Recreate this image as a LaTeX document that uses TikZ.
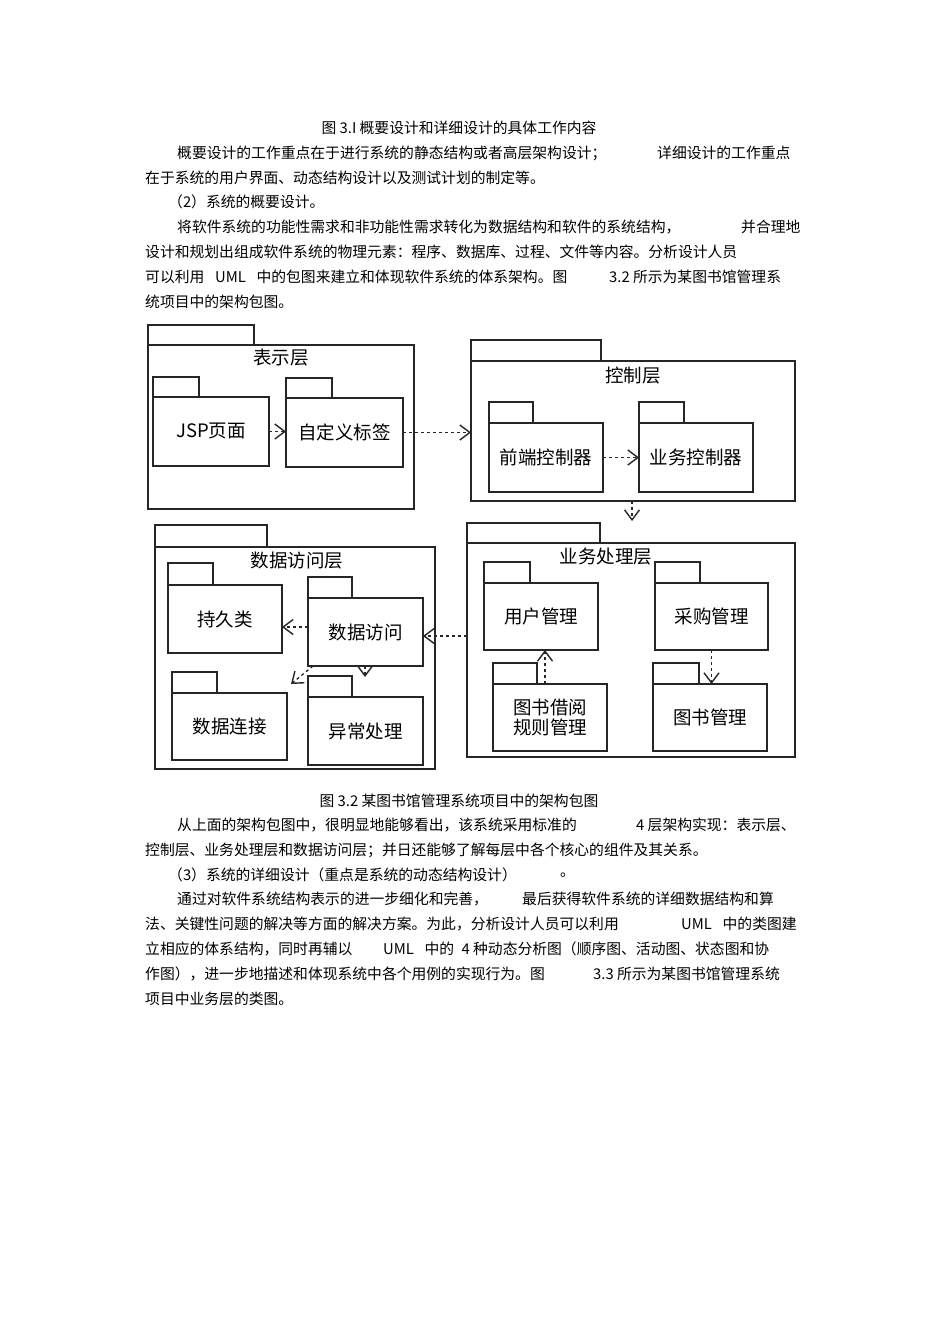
\documentclass[tikz,border=0pt]{standalone}
\usepackage{fontspec}
\setmainfont{Noto Sans CJK SC}
\usetikzlibrary{arrows.meta}
\newcommand\bodyfont{\fontsize{14.8}{17}\selectfont}
\newcommand\diagfont{\fontsize{18.5}{22}\selectfont}
\newcommand\pkgnode[8]{%
  \node[pkgtab, minimum width={#4-#2}, minimum height={#5-#3}] (#1tab) at (#2,#3) {};
  \node[pkgbody, minimum width={#6-#2}, minimum height={#7-#5}] (#1) at (#2,#5) {#8};}
\tikzset{
  pkgtab/.style={draw=black!85, line width=1.4pt, inner sep=0pt, outer sep=0pt, anchor=north west},
  pkgbody/.style={draw=black!85, line width=1.4pt, inner sep=0pt, outer sep=0pt, anchor=north west, align=center, font=\diagfont},
  layertitle/.style={font=\diagfont, inner sep=0pt},
  dep/.style={draw=black!85, line width=1.3pt, dash pattern=on 3pt off 3pt, -{Straight Barb[length=10pt,width=15pt,line width=1.4pt]}},
  txt/.style={font=\bodyfont, anchor=west, inner sep=0pt, text=black},
  txtc/.style={font=\bodyfont, anchor=center, inner sep=0pt, text=black},
}
\begin{document}
\begin{tikzpicture}[x=1pt, y=-1pt]
\fill[white] (0,0) rectangle (950,1343);
\useasboundingbox (0,0) rectangle (950,1343);

% ---------- text above ----------
\node[txtc] (cap1) at (459,128) {图 3.I 概要设计和详细设计的具体工作内容};
\node[txt] (t2a) at (177,153) {概要设计的工作重点在于进行系统的静态结构或者高层架构设计；};
\node[txt] (t2b) at (657,153) {详细设计的工作重点};
\node[txt] (t3) at (145,178) {在于系统的用户界面、动态结构设计以及测试计划的制定等。};
\node[txt] (t4) at (168,202) {（2）系统的概要设计。};
\node[txt] (t5a) at (177,227) {将软件系统的功能性需求和非功能性需求转化为数据结构和软件的系统结构，};
\node[txt] (t5b) at (741,227) {并合理地};
\node[txt] (t6) at (145,252) {设计和规划出组成软件系统的物理元素：程序、数据库、过程、文件等内容。分析设计人员};
\node[txt] (t7a) at (145,277) {可以利用\enspace\ UML\enspace\ 中的包图来建立和体现软件系统的体系架构。图};
\node[txt] (t7b) at (609,277) {3.2 所示为某图书馆管理系};
\node[txt] (t8) at (145,302) {统项目中的架构包图。};

% ---------- diagram ----------
% 表示层
\pkgnode{pres}{148}{325}{254}{345}{414}{509}{}
\node[layertitle] (presT) at (281,358) {表示层};
\pkgnode{jsp}{153}{377}{199}{397}{269}{466}{JSP页面}
\pkgnode{tag}{286}{378}{332}{398}{403}{467}{自定义标签}

% 控制层
\pkgnode{ctrl}{471}{340}{601}{361}{795}{501}{}
\node[layertitle] (ctrlT) at (633,376) {控制层};
\pkgnode{front}{489}{402}{533}{423}{603}{492}{前端控制器}
\pkgnode{bizc}{639}{402}{684}{423}{753}{492}{业务控制器}

% 业务处理层
\pkgnode{biz}{467}{523}{600}{543}{795}{757}{}
\node[layertitle] (bizT) at (606,557) {业务处理层};
\pkgnode{user}{484}{562}{530}{583}{598}{650}{用户管理}
\pkgnode{purch}{655}{562}{700}{583}{768}{650}{采购管理}
\pkgnode{borrow}{493}{663}{537}{684}{607}{751}{图书借阅\\[-2pt]规则管理}
\pkgnode{books}{653}{663}{699}{684}{767}{751}{图书管理}

% 数据访问层
\pkgnode{dal}{155}{525}{267}{547}{435}{769}{}
\node[layertitle] (dalT) at (297,561) {数据访问层};
\pkgnode{pers}{168}{563}{213}{585}{282}{653}{持久类}
\pkgnode{da}{308}{577}{352}{598}{423}{666}{数据访问}
\pkgnode{conn}{172}{672}{217}{693}{287}{760}{数据连接}
\pkgnode{exc}{308}{676}{352}{697}{423}{765}{异常处理}

% free ends
\coordinate (c1) at (632,521);
\coordinate (e1) at (365,677);
\coordinate (e2) at (291,684);

% dependencies
\draw[dep] (jsp.east) -- (tag.west |- jsp.east);
\draw[dep] (tag.east) -- (ctrl.west |- tag.east);
\draw[dep] (front.east) -- (bizc.west);
\draw[dep] (ctrl.south -| c1) -- (c1);
\draw[dep] ([xshift=52pt]borrow.north west) -- ([xshift=52pt]borrow.north west |- user.south);
\draw[dep] (purch.south) -- (books.north -| purch.south);
\draw[dep] ([yshift=-4pt]biz.west |- da.east) -- ([yshift=-4pt]da.east);
\draw[dep] ([yshift=5pt]da.west) -- ([yshift=5pt]da.west -| pers.east);
\draw[dep] (da.south -| e1) -- (e1);
\draw[dep] ([xshift=5pt]da.south west) -- (e2);

% ---------- text below ----------
\node[txtc] (cap2) at (459,801) {图 3.2 某图书馆管理系统项目中的架构包图};
\node[txt] (u1a) at (177,825) {从上面的架构包图中，很明显地能够看出，该系统采用标准的};
\node[txt] (u1b) at (636,825) {4 层架构实现：表示层、};
\node[txt] (u2) at (145,850) {控制层、业务处理层和数据访问层；并日还能够了解每层中各个核心的组件及其关系。};
\node[txt] (u3a) at (168,875) {（3）系统的详细设计（重点是系统的动态结构设计）};
\node[txt] (u3b) at (560,875) {。};
\node[txt] (u4a) at (177,899) {通过对软件系统结构表示的进一步细化和完善，};
\node[txt] (u4b) at (522,899) {最后获得软件系统的详细数据结构和算};
\node[txt] (u5a) at (145,924) {法、关键性问题的解决等方面的解决方案。为此，分析设计人员可以利用};
\node[txt] (u5b) at (681,924) {UML\enspace\ 中的类图建};
\node[txt] (u6a) at (145,949) {立相应的体系结构，同时再辅以};
\node[txt] (u6b) at (383,949) {UML\enspace\ 中的\enspace 4 种动态分析图（顺序图、活动图、状态图和协};
\node[txt] (u7a) at (145,974) {作图），进一步地描述和体现系统中各个用例的实现行为。图};
\node[txt] (u7b) at (593,974) {3.3 所示为某图书馆管理系统};
\node[txt] (u8) at (145,999) {项目中业务层的类图。};
\end{tikzpicture}
\end{document}
